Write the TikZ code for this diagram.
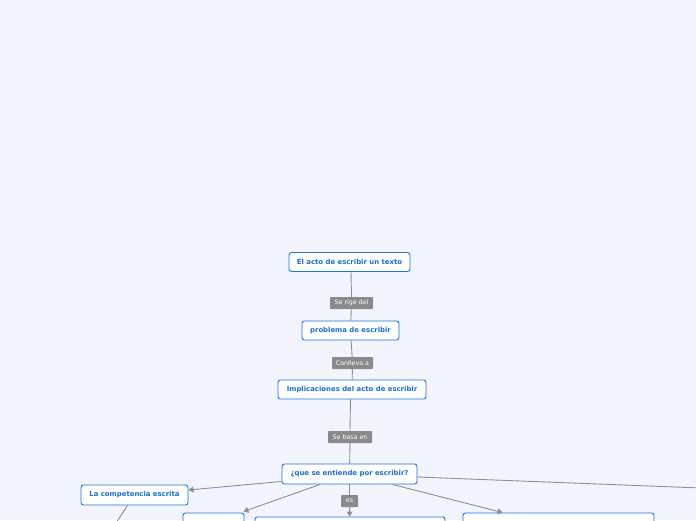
\documentclass[tikz,border=0pt]{standalone}
\usepackage{fontspec}
\newfontfamily\boxfont{DejaVu Sans}
\usetikzlibrary{arrows.meta,calc}
\definecolor{bgc}{HTML}{F2F5FD}
\definecolor{boxblue}{HTML}{1F74E0}
\definecolor{txtblue}{HTML}{1A6ED8}
\definecolor{linec}{HTML}{8C8E98}
\definecolor{lblc}{HTML}{8A8A8C}
\tikzset{
  topic/.style={draw=boxblue, line width=0.9pt, fill=white, rounded corners=2.5pt,
    font=\boxfont\bfseries\fontsize{6.9}{8}\selectfont, text=txtblue,
    minimum height=19pt, inner sep=0pt, anchor=center},
  lbl/.style={fill=lblc, text=white, rounded corners=0.8pt,
    font=\boxfont\fontsize{6.3}{7}\selectfont, minimum height=12pt, inner sep=0pt},
  conn/.style={draw=linec, line width=0.9pt},
  arr/.style={conn, -{Triangle[length=5pt,width=6pt]}}
}
\begin{document}
\begin{tikzpicture}[x=1pt,y=-1pt]
\fill[bgc] (0,0) rectangle (696,520);
\useasboundingbox (0,0) rectangle (696,520);
\clip (0,0) rectangle (696,520);
% nodes
\node[topic, minimum width=121pt] (n1) at (349.5,262) {El acto de escribir un texto};
\node[lbl, minimum width=43pt] (l1) at (351.5,303) {Se rige del};
\node[topic, minimum width=97pt] (n2) at (350.5,330.5) {problema de escribir};
\node[lbl, minimum width=41pt] (l2) at (352.5,363) {Conlleva a};
\node[topic, minimum width=148pt] (n3) at (352,389.5) {Implicaciones del acto de escribir};
\node[lbl, minimum width=44pt] (l3) at (350,437) {Se basa en};
\node[topic, minimum width=135pt, minimum height=20pt] (n4) at (349.5,474) {¿que se entiende por escribir?};
\node[lbl, minimum width=17pt] (l4) at (349.5,501) {es};
\node[topic, minimum width=107pt, minimum height=20pt] (n5) at (134.5,495) {La competencia escrita};
\node[topic, minimum width=61pt, minimum height=60pt] (b1) at (213.5,543) {};
\node[topic, minimum width=190pt, minimum height=60pt] (b2) at (350,547) {};
\node[topic, minimum width=191pt, minimum height=60pt] (b3) at (558.5,543) {};
\coordinate (offr) at (740,489.5);
\coordinate (offb) at (105,540);
% connectors
\draw[conn] (n1.south) ++(1.5,0) .. controls (352,285) .. (l1.north);
\draw[conn] (l1) -- (n2);
\draw[conn] (n2) -- (l2);
\draw[conn] (l2) -- (n3);
\draw[conn] (n3.south) ++(-1.5,0) -- (l3.north);
\draw[conn] (l3) -- (n4);
\draw[conn] (n4) -- (l4);
\draw[arr] (l4) -- (b2);
\draw[arr] ($(n4.south west)+(0,-3)$) -- ($(n5.east)+(0,-5)$);
\draw[arr] ($(n4.south)+(-29.5,0)$) -- ($(b1.north east)+(-1,-1)$);
\draw[arr] ($(n4.south east)+(-25,0)$) -- ($(b3.north west)+(40,0)$);
\draw[conn] ($(n4.east)+(0,3)$) -- (offr);
\draw[conn] ($(n5.south)+(-7,0)$) -- (offb);
\end{tikzpicture}
\end{document}
